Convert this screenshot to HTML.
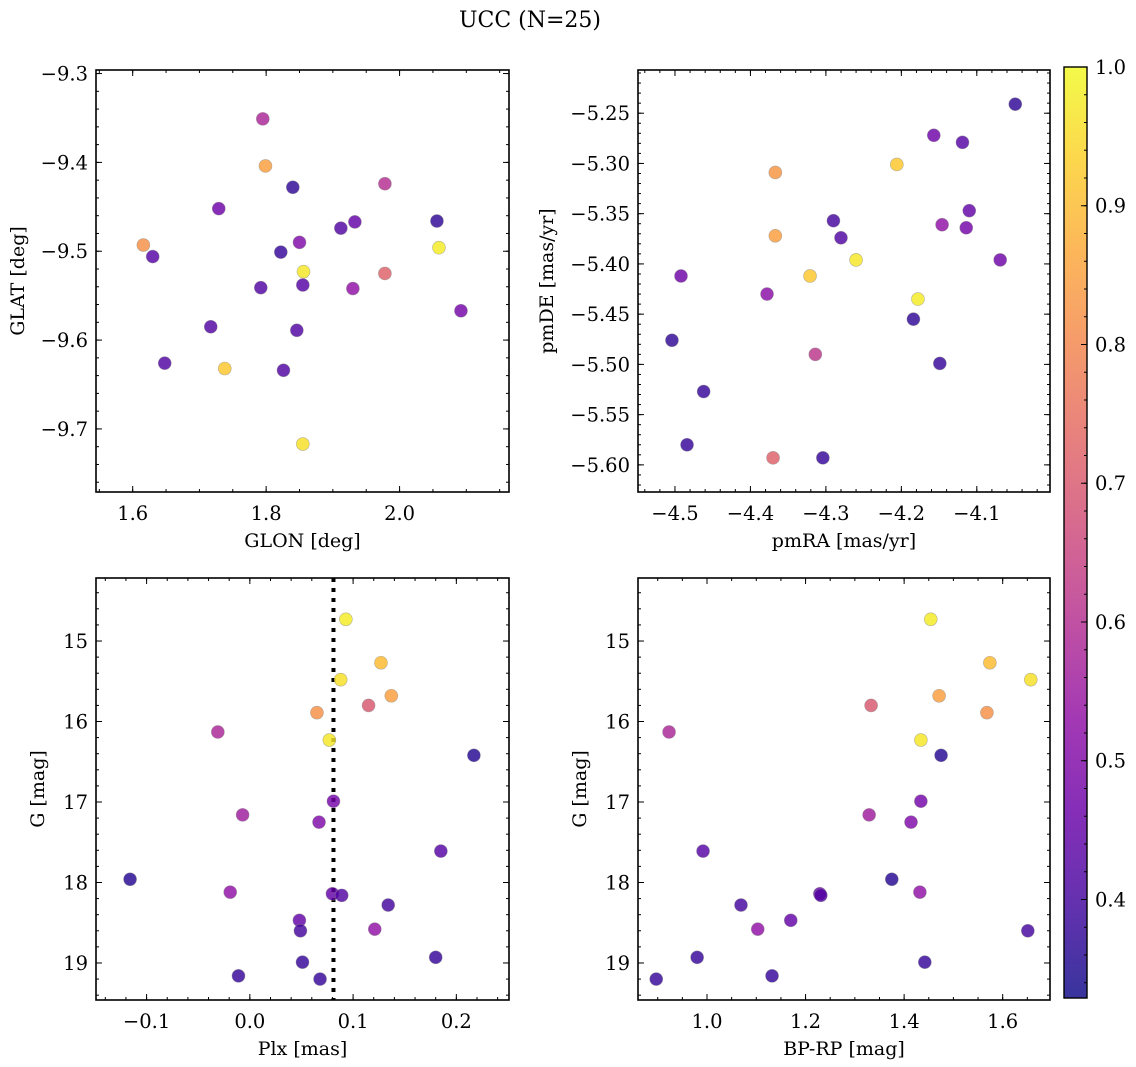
<!DOCTYPE html>
<html><head><meta charset="utf-8">
<style>
html,body{margin:0;padding:0;background:#fff;}
svg{display:block;font-family:"DejaVu Serif","Liberation Serif",serif;}
</style></head>
<body>
<svg id="fig" width="1136" height="1067" viewBox="0 0 1136 1067" xmlns="http://www.w3.org/2000/svg">
<text x="530" y="27" font-size="22" text-anchor="middle">UCC (N=25)</text>
</svg>
<script>
// Panel 1: GLON / GLAT
const glon = [1.795,1.799,1.978,1.840,1.729,1.933,2.056,1.912,1.616,1.850,2.059,1.822,1.630,1.856,1.978,1.855,1.792,1.930,2.092,1.717,1.846,1.648,1.738,1.826,1.855];
const glat = [-9.351,-9.404,-9.424,-9.428,-9.452,-9.467,-9.466,-9.474,-9.493,-9.490,-9.496,-9.501,-9.506,-9.523,-9.525,-9.538,-9.541,-9.542,-9.567,-9.585,-9.589,-9.626,-9.632,-9.634,-9.717];
const probA = [0.58,0.85,0.60,0.37,0.47,0.45,0.37,0.42,0.82,0.50,0.98,0.38,0.43,0.97,0.72,0.43,0.42,0.53,0.48,0.42,0.42,0.42,0.92,0.42,0.96];
// Panel 2: pmRA / pmDE
const pmra = [-4.049,-4.157,-4.119,-4.206,-4.367,-4.290,-4.110,-4.146,-4.114,-4.280,-4.367,-4.260,-4.069,-4.321,-4.492,-4.178,-4.378,-4.184,-4.504,-4.314,-4.149,-4.462,-4.484,-4.370,-4.304];
const pmde = [-5.241,-5.272,-5.279,-5.301,-5.309,-5.357,-5.347,-5.361,-5.364,-5.374,-5.372,-5.396,-5.396,-5.412,-5.412,-5.435,-5.430,-5.455,-5.476,-5.490,-5.499,-5.527,-5.580,-5.593,-5.593];
const probB = [0.37,0.47,0.43,0.92,0.83,0.40,0.45,0.53,0.48,0.42,0.85,0.97,0.47,0.92,0.47,0.98,0.52,0.37,0.37,0.62,0.38,0.38,0.38,0.72,0.38];
// Panels 3 & 4: Plx, G, BP-RP
const plx = [0.093,0.127,0.088,0.137,0.065,0.115,-0.031,0.077,0.217,0.081,-0.007,0.067,0.185,-0.116,-0.019,0.080,0.089,0.134,0.121,0.048,0.049,0.180,0.051,-0.011,0.068];
const gmag = [14.73,15.27,15.48,15.68,15.89,15.80,16.13,16.23,16.42,16.99,17.16,17.25,17.61,17.96,18.12,18.14,18.16,18.28,18.58,18.47,18.60,18.93,18.99,19.16,19.20];
const bprp = [1.454,1.574,1.657,1.471,1.568,1.333,0.923,1.434,1.475,1.434,1.329,1.414,0.992,1.375,1.432,1.229,1.231,1.069,1.103,1.170,1.651,0.980,1.442,1.132,0.897];
const probC = [0.98,0.90,0.96,0.85,0.82,0.70,0.58,0.97,0.36,0.48,0.56,0.50,0.43,0.36,0.53,0.45,0.42,0.40,0.53,0.45,0.40,0.38,0.38,0.38,0.38];
const plxRef = [0.081];
const cbTicks = [0.4,0.5,0.6,0.7,0.8,0.9,1.0];

const NS="http://www.w3.org/2000/svg";
const svg=document.getElementById('fig');
function el(tag,attrs,parent){const e=document.createElementNS(NS,tag);for(const k in attrs)e.setAttribute(k,attrs[k]);(parent||svg).appendChild(e);return e;}
const stops=[[13,8,135],[65,4,157],[106,0,168],[143,13,164],[177,42,144],[204,71,120],[225,100,98],[242,132,75],[252,166,54],[252,206,37],[240,249,33]];
function plasma(t){t=Math.max(0,Math.min(1,t));const f=t*10,i=Math.min(9,Math.floor(f)),u=f-i;const a=stops[i],b=stops[i+1];return 'rgb('+a.map((v,k)=>Math.round(v+(b[k]-v)*u)).join(',')+')';}
const VMIN=0.329,VMAX=1.0;
function cmap(p){return plasma((p-VMIN)/(VMAX-VMIN));}
function fmt(v,d){const s=Math.abs(v).toFixed(d);return (v< -1e-9?'\u2212':'')+s;}
const TF=19.5, LF=19;

function panel(o){
  const g=el('g',{});
  
  
  const sx=v=>o.x0+(v-o.xd[0])/(o.xd[1]-o.xd[0])*(o.x1-o.x0);
  const sy=v=>o.y1-(v-o.yd[0])/(o.yd[1]-o.yd[0])*(o.y1-o.y0);
  function ticks(dom,step){const out=[];const s=Math.ceil(dom[0]/step-1e-6);const e=Math.floor(dom[1]/step+1e-6);for(let i=s;i<=e;i++)out.push(i*step);return out;}
  const tg=el('g',{stroke:'#000','stroke-width':1},g);
  ticks(o.xd,o.xminor).forEach(v=>{const x=sx(v);el('line',{x1:x,x2:x,y1:o.y1,y2:o.y1-3},tg);el('line',{x1:x,x2:x,y1:o.y0,y2:o.y0+3},tg);});
  ticks(o.yd,o.yminor).forEach(v=>{const y=sy(v);el('line',{x1:o.x0,x2:o.x0+3,y1:y,y2:y},tg);el('line',{x1:o.x1,x2:o.x1-3,y1:y,y2:y},tg);});
  ticks(o.xd,o.xmajor).forEach(v=>{const x=sx(v);el('line',{x1:x,x2:x,y1:o.y1,y2:o.y1-6},tg);el('line',{x1:x,x2:x,y1:o.y0,y2:o.y0+6},tg);
    const t=el('text',{x:x,y:o.y1+28,'font-size':TF,'text-anchor':'middle'},g);t.textContent=fmt(v,o.xdec);
    
    });
  ticks(o.yd,o.ymajor).forEach(v=>{const y=sy(v);el('line',{x1:o.x0,x2:o.x0+6,y1:y,y2:y},tg);el('line',{x1:o.x1,x2:o.x1-6,y1:y,y2:y},tg);
    const t=el('text',{x:o.x0-8,y:y+7,'font-size':TF,'text-anchor':'end'},g);t.textContent=o.flipY?Math.abs(v).toFixed(o.ydec):fmt(v,o.ydec);
    
    });
  if(o.vline!==undefined){const x=sx(o.vline);const l=el('line',{x1:x,x2:x,y1:o.y0,y2:o.y1,stroke:'#000','stroke-width':4,'stroke-dasharray':'4 6'},g);
    
    }
  o.xs.forEach((v,i)=>{const c=el('circle',{cx:sx(v),cy:sy(o.ys[i]),r:6.5,fill:cmap(o.ps[i]),'fill-opacity':0.82,stroke:'#888','stroke-opacity':0.6,'stroke-width':0.6},g);
    
    });
  const fr=el('rect',{x:o.x0,y:o.y0,width:o.x1-o.x0,height:o.y1-o.y0,fill:'none',stroke:'#000','stroke-width':1.6},g);
  
  
  const xl=el('text',{x:(o.x0+o.x1)/2,y:o.y1+55,'font-size':LF,'text-anchor':'middle'},g);xl.textContent=o.xlabel;
  
  
  const yx=o.ylx,yy=(o.y0+o.y1)/2;
  const yl=el('text',{x:yx,y:yy,'font-size':LF,'text-anchor':'middle',transform:'rotate(-90 '+yx+' '+yy+')'},g);yl.textContent=o.ylabel;
  
  
}

panel({name:'glon-glat-panel',x0:96,x1:509,y0:70,y1:492,xd:[1.545,2.164],yd:[-9.771,-9.296],xmajor:0.2,xminor:0.05,ymajor:0.1,yminor:0.02,xdec:1,ydec:1,xs:glon,ys:glat,ps:probA,xlabel:'GLON [deg]',ylabel:'GLAT [deg]',ylx:24});
panel({name:'pm-panel',x0:638,x1:1050,y0:70,y1:492,xd:[-4.549,-4.003],yd:[-5.627,-5.207],xmajor:0.1,xminor:0.02,ymajor:0.05,yminor:0.01,xdec:1,ydec:2,xs:pmra,ys:pmde,ps:probB,xlabel:'pmRA [mas/yr]',ylabel:'pmDE [mas/yr]',ylx:553});
panel({name:'plx-g-panel',x0:96,x1:509,y0:578,y1:1000,xd:[-0.149,0.251],yd:[-19.46,-14.217],xmajor:0.1,xminor:0.02,ymajor:1,yminor:0.2,xdec:1,ydec:0,flipY:true,xs:plx,ys:gmag.map(v=>-v),ps:probC,vline:plxRef[0],xlabel:'Plx [mas]',ylabel:'G [mag]',ylx:44});
panel({name:'cmd-panel',x0:638,x1:1050,y0:578,y1:1000,xd:[0.860,1.696],yd:[-19.46,-14.217],xmajor:0.2,xminor:0.05,ymajor:1,yminor:0.2,xdec:1,ydec:0,flipY:true,xs:bprp,ys:gmag.map(v=>-v),ps:probC,xlabel:'BP-RP [mag]',ylabel:'G [mag]',ylx:586});

// colorbar
const cb=el('g',{});


const cbx=1064,cbw=23,cby0=67,cby1=998;
const defs=el('defs',{},cb);
const lg=el('linearGradient',{id:'cbg',x1:0,y1:1,x2:0,y2:0},defs);
for(let i=0;i<=20;i++){el('stop',{offset:(i/20),'stop-color':plasma(i/20),'stop-opacity':0.82},lg);}
el('rect',{x:cbx,y:cby0,width:cbw,height:cby1-cby0,fill:'url(#cbg)'},cb);
const cy=v=>cby1-(v-VMIN)/(VMAX-VMIN)*(cby1-cby0);
for(let k=17;k<=50;k++){const v=k*0.02;if(v<VMIN)continue;const y=cy(v);el('line',{x1:cbx+cbw,x2:cbx+cbw-3,y1:y,y2:y,stroke:'#000'},cb);}
cbTicks.forEach(v=>{const y=cy(v);el('line',{x1:cbx+cbw,x2:cbx+cbw-6,y1:y,y2:y,stroke:'#000'},cb);
  const t=el('text',{x:cbx+cbw+8,y:y+7,'font-size':TF},cb);t.textContent=v.toFixed(1);
  
  });
el('rect',{x:cbx,y:cby0,width:cbw,height:cby1-cby0,fill:'none',stroke:'#000','stroke-width':1.4},cb);
</script>
</body></html>
